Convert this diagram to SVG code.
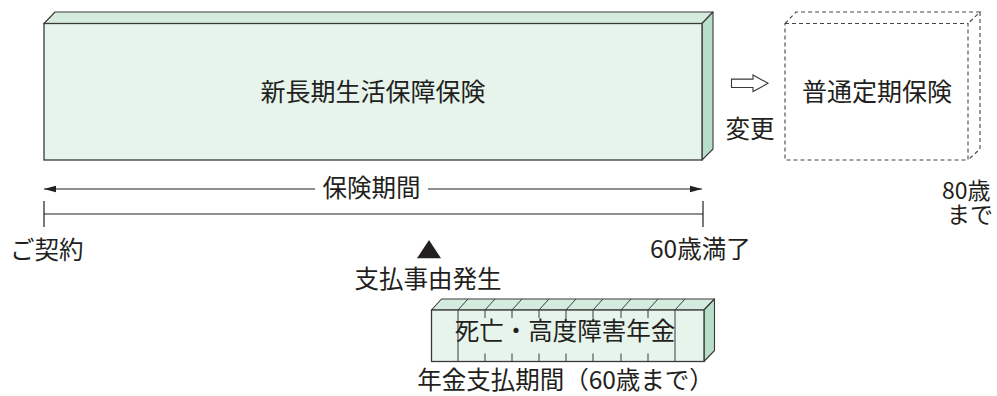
<svg xmlns="http://www.w3.org/2000/svg" width="997" height="396" viewBox="0 0 997 396">
<style>
text{font-family:"Noto Sans CJK JP","Noto Sans",sans-serif;font-size:24.5px;fill:#231f20}
.big{font-size:25px}
.sm{font-size:23px}
.front{fill:#e6f4ec;stroke:#3a3a3a;stroke-width:1.3}
.top{fill:#d4ebde;stroke:#3a3a3a;stroke-width:1.1;stroke-linejoin:round}
.side{fill:#b8ddc9;stroke:#3a3a3a;stroke-width:1.1;stroke-linejoin:round}
.dash{fill:none;stroke:#444;stroke-width:1.1;stroke-dasharray:4 3}
.ln{stroke:#231f20;stroke-width:1.2;fill:none}
.thin{stroke:#3a3a3a;stroke-width:1;fill:none}
</style>
<defs>
<marker id="ah" viewBox="0 0 12 8" refX="12" refY="4" markerWidth="12" markerHeight="8" markerUnits="userSpaceOnUse" orient="auto-start-reverse">
<path d="M0,0.8 L12,4 L0,7.2 Z" fill="#231f20"/>
</marker>
</defs>
<g id="main-policy">
<polygon class="top" points="44,23.5 55,12 713,12 702,23.5"/>
<polygon class="side" points="702,23.5 713,12 713,149 702,160"/>
<rect class="front" x="44" y="23.5" width="658" height="136.5"/>
<text class="big" x="373" y="100.7" text-anchor="middle">新長期生活保障保険</text>
</g>
<g id="change-arrow">
<polygon points="731.5,79.1 753,79.1 753,75 768,83.3 753,91.6 753,87.5 731.5,87.5" fill="#fff" stroke="#3a3a3a" stroke-width="1.1"/>
<text x="750" y="138" text-anchor="middle">変更</text>
</g>
<g id="term-policy">
<rect class="dash" x="785" y="23.5" width="183" height="136.5"/>
<polyline class="dash" points="785,23.5 796,12 980,12 968,23.5"/>
<polyline class="dash" points="980,12 980,149 968,160"/>
<text class="big" x="877" y="101" text-anchor="middle">普通定期保険</text>
</g>
<g id="age80">
<text class="sm"><tspan x="942" y="198.5">80歳</tspan><tspan x="947" y="223">まで</tspan></text>
</g>
<g id="connectors">
<line class="ln" x1="315" y1="189" x2="44" y2="189" marker-end="url(#ah)"/>
<line class="ln" x1="428" y1="189" x2="702" y2="189" marker-end="url(#ah)"/>
<line class="ln" x1="44" y1="214" x2="703" y2="214"/>
<line class="ln" x1="44" y1="201" x2="44" y2="227"/>
<line class="ln" x1="703" y1="201" x2="703" y2="227"/>
<polygon points="429,240 417,258.3 441,258.3" fill="#231f20"/>
</g>
<g id="labels">
<text x="371.5" y="196.5" text-anchor="middle">保険期間</text>
<text x="10" y="259">ご契約</text>
<text x="650" y="258">60歳満了</text>
<text x="428" y="288" text-anchor="middle">支払事由発生</text>
</g>
<g id="pension">
<polygon class="top" points="431.5,310 441.5,299 714.5,299 704,310"/>
<polygon class="side" points="704,310 714.5,299 714.5,350.5 704,361.5"/>
<rect class="front" x="431.5" y="310" width="272.5" height="51.5"/>
<g class="thin">
<line x1="458" y1="310" x2="458" y2="361.5"/>
<line x1="675" y1="310" x2="675" y2="361.5"/>
<path d="M485,310v8M512,310v8M539,310v8M566,310v8M593,310v8M621,310v8M648,310v8"/>
<path d="M485,353.5v8M512,353.5v8M539,353.5v8M566,353.5v8M593,353.5v8M621,353.5v8M648,353.5v8"/>
<path d="M458,310l10,-11M485,310l10,-11M512,310l10,-11M539,310l10,-11M566,310l10,-11M593,310l10,-11M621,310l10,-11M648,310l10,-11M675,310l10,-11"/>
</g>
<text x="565" y="340" text-anchor="middle">死亡・高度障害年金</text>
<text x="565.5" y="389" text-anchor="middle">年金支払期間（60歳まで）</text>
</g>
</svg>
